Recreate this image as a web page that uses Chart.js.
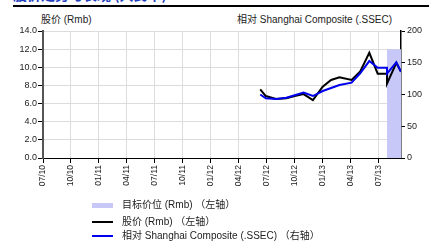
<!DOCTYPE html>
<html><head><meta charset="utf-8">
<script src="https://cdn.jsdelivr.net/npm/chart.js@4/dist/chart.umd.min.js"></script>
<style>
html,body{margin:0;padding:0;background:#fff;}
#wrap{position:relative;width:437px;height:244px;overflow:hidden;font-family:"Liberation Sans","Noto Sans CJK SC",sans-serif;color:#222;}
canvas{position:absolute;left:0;top:0;}
.t{position:absolute;white-space:nowrap;font-size:10px;line-height:12px;}
#title{position:absolute;left:13px;top:-13px;font-size:14px;line-height:14px;font-weight:bold;color:#1f3fbf;white-space:nowrap;font-family:"Noto Sans CJK SC",sans-serif;}
#rule{position:absolute;left:13px;top:5px;width:416px;height:2px;background:#000;}
.sw{position:absolute;left:92px;width:21px;}
</style></head>
<body><div id="wrap">
<div id="title">股价走势与表现 (人民币)</div>
<div id="rule"></div>
<div class="t" style="left:41px;top:14px;">股价 (Rmb)</div>
<div class="t" style="left:237px;top:14px;">相对 Shanghai Composite (.SSEC)</div>
<canvas id="c" width="437" height="244"></canvas>
<div class="sw" style="top:203px;height:5px;background:rgb(200,200,248);"></div>
<div class="t" style="left:122px;top:199px;">目标价位 (Rmb) （左轴）</div>
<div class="sw" style="top:221px;height:2px;background:#000;"></div>
<div class="t" style="left:122px;top:216px;">股价 (Rmb) （左轴）</div>
<div class="sw" style="top:235px;height:2px;background:#0000ee;"></div>
<div class="t" style="left:122px;top:230px;">相对 Shanghai Composite (.SSEC) （右轴）</div>
</div>
<script>
// x positions are months since Jul 2010
const tickLabels = ["07/10","10/10","01/11","04/11","07/11","10/11","01/12","04/12","07/12","10/12","01/13","04/13","07/13"];
const priceMonths = [23.3,23.9,25.0,26.1,27.0,27.95,28.95,30.0,30.9,31.8,33.1,34.0,35.0,35.9,36.9,36.9,37.9,38.4];
const priceValues = [7.57,6.83,6.5,6.58,6.83,7.05,6.39,7.86,8.6,8.9,8.6,9.5,11.6,9.3,9.3,8.2,10.5,9.5];
const relMonths = [23.3,23.9,25.0,26.1,27.95,28.95,30.0,31.8,33.1,34.0,35.0,35.9,36.9,36.9,37.9,38.4];
const relValues = [100,94,93,95,103,97.6,105.5,115,118.6,133,152.7,142,142,133,150.7,136];
const targetMonths = [36.9,37.9,38.4];
const targetValues = [11.3,12.0,12.0];

const pts = (xs, ys) => xs.map((x, i) => ({x, y: ys[i]}));
const tickFont = {family: "Liberation Sans", size: 9};

new Chart(document.getElementById('c'), {
  type: 'line',
  data: {datasets: [
    {data: pts(relMonths, relValues), yAxisID: 'y2', borderColor: '#0000ee', borderWidth: 2, pointRadius: 0, order: 1, tension: 0},
    {data: pts(priceMonths, priceValues), yAxisID: 'y', borderColor: '#000', borderWidth: 2, pointRadius: 0, order: 2, tension: 0},
    {data: pts(targetMonths, targetValues), yAxisID: 'y', borderWidth: 0, borderColor: 'rgba(0,0,0,0)', backgroundColor: 'rgb(200,200,248)', fill: 'origin', stepped: 'after', pointRadius: 0, order: 3}
  ]},
  options: {
    responsive: false, animation: false, devicePixelRatio: 1,
    layout: {padding: {top: 31, left: 0, right: 0, bottom: 0}},
    plugins: {legend: {display: false}, tooltip: {enabled: false}},
    scales: {
      x: {type: 'linear', min: 0, max: 38.4,
        afterFit: s => { s.height = 86; },
        afterBuildTicks: s => { s.ticks = tickLabels.map((l, i) => ({value: i * 3})); },
        ticks: {autoSkip: false, minRotation: 90, maxRotation: 90, padding: 2, color: '#222', font: {family: "Liberation Sans", size: 8.5},
          callback: (v) => tickLabels[Math.round(v / 3)]},
        grid: {color: '#dcdcdc', lineWidth: 1, tickColor: '#000', tickLength: 5},
        border: {color: '#000', width: 1}
      },
      y: {position: 'left', min: 0, max: 14,
        afterFit: s => { s.width = 43; },
        ticks: {stepSize: 2, padding: 1, color: '#222', font: tickFont, callback: v => v.toFixed(1)},
        grid: {color: '#dcdcdc', lineWidth: 1, tickColor: '#000', tickLength: 5},
        border: {color: '#555', width: 2}
      },
      y2: {position: 'right', min: 0, max: 200,
        afterFit: s => { s.width = 36; },
        ticks: {stepSize: 50, padding: 2, color: '#222', font: tickFont},
        grid: {drawOnChartArea: false, tickColor: '#000', tickLength: 4},
        border: {color: '#000', width: 1.5}
      }
    }
  }
});
</script>
</body></html>
